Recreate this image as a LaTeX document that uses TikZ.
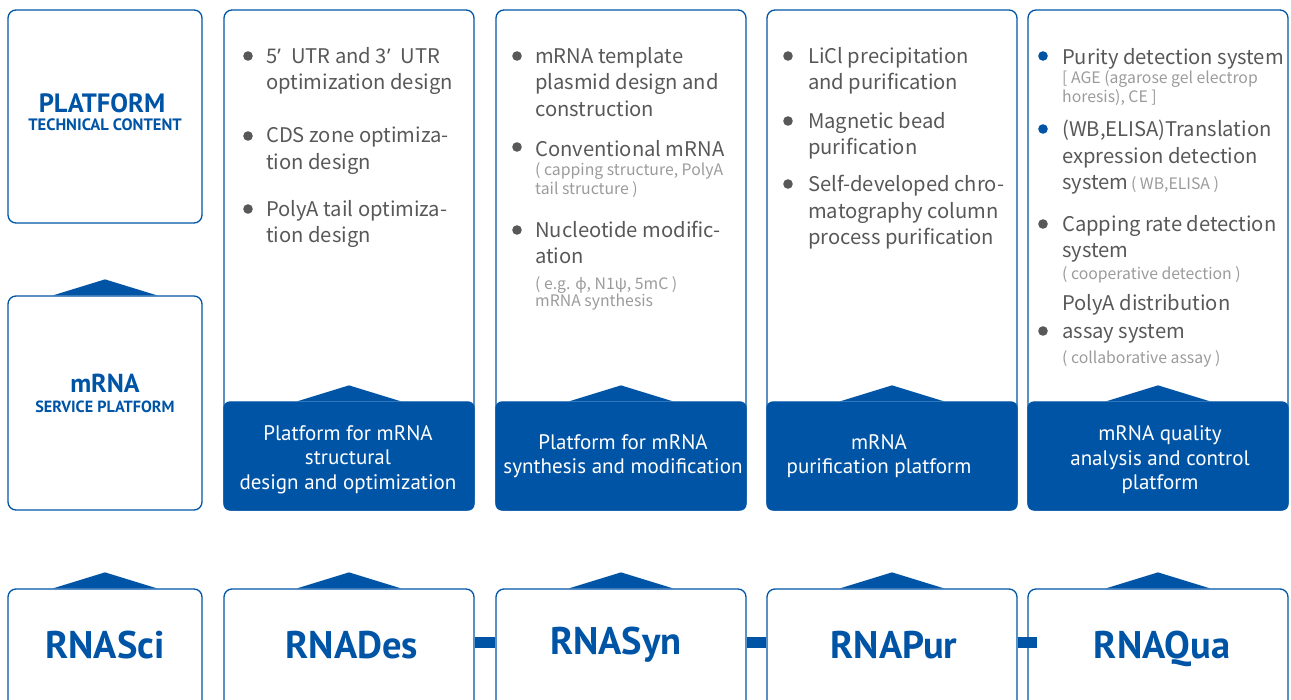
\documentclass[tikz,border=0pt]{standalone}
\usepackage{fontspec}
\setmainfont{PT Sans}
\newfontfamily\bodyfont{Noto Sans CJK SC}
\newfontfamily\symfont{Noto Sans}
\definecolor{mblue}{RGB}{0,84,166}
\definecolor{txtgray}{RGB}{88,88,88}
\definecolor{notegray}{RGB}{155,155,155}
% small roof on top of a box
\newcommand{\roof}[1]{\fill[mblue] ([xshift=-52pt]#1.north) -- ([yshift=16pt]#1.north) -- ([xshift=52pt]#1.north) -- cycle;}
\newcommand{\primemark}{{\symfont’}\hspace{0.5em}}

\begin{document}
\begin{tikzpicture}[x=1pt, y=-1pt,
  panel/.style={draw=mblue, line width=1.3pt, rounded corners=8pt, inner sep=0pt},
  plat/.style={fill=mblue, draw=mblue, line width=1.3pt, rounded corners=6pt, inner sep=0pt},
  item/.style={anchor=north west, inner sep=0pt, align=left, text=txtgray,
    font=\bodyfont\fontsize{20.2}{26.5}\selectfont, execute at begin node=\strut},
  note/.style={item, text=notegray, font=\bodyfont\fontsize{15.8}{18.5}\selectfont},
  platlabel/.style={text=white, align=center, inner sep=0pt, font=\fontsize{21}{24.5}\selectfont},
  head/.style={anchor=base, text=mblue, inner sep=0pt, font=\bfseries\fontsize{38.5}{40}\selectfont},
  bar/.style={draw=mblue, line width=11pt}]
 \useasboundingbox (0,0) rectangle (1291,700);
 \clip (0,0) rectangle (1291,700);

 % left column
 \node[panel, minimum width=194pt, minimum height=213pt] (pTech) at (105,116.5) {};
 \node[panel, minimum width=194pt, minimum height=214pt] (pServ) at (105,403) {};
 \node[head, font=\bfseries\fontsize{26.5}{28}\selectfont] (tTech) at (102,113) {PLATFORM};
 \node[head, font=\bfseries\fontsize{16.5}{18}\selectfont] (sTech) at (105,131) {TECHNICAL CONTENT};
 \node[head, font=\bfseries\fontsize{26}{28}\selectfont] (tServ) at (105,393) {mRNA};
 \node[head, font=\bfseries\fontsize{16.2}{18}\selectfont] (sServ) at (105,413) {SERVICE PLATFORM};

 % platform columns
 \node[panel, minimum width=250pt, minimum height=500pt] (pDes) at (349,260) {};
 \node[panel, minimum width=250pt, minimum height=500pt] (pSyn) at (621,260) {};
 \node[panel, minimum width=250pt, minimum height=500pt] (pPur) at (892,260) {};
 \node[panel, minimum width=260pt, minimum height=500pt] (pQua) at (1158,260) {};
 \node[plat, minimum width=250pt, minimum height=108pt] (bDes) at (349,456) {};
 \node[plat, minimum width=250pt, minimum height=108pt] (bSyn) at (621,456) {};
 \node[plat, minimum width=250pt, minimum height=108pt] (bPur) at (892,456) {};
 \node[plat, minimum width=260pt, minimum height=108pt] (bQua) at (1158,456) {};
 \node[platlabel] (lDes) at (348,459.5) {Platform for mRNA\\structural\\design and optimization};
 \node[platlabel] (lSyn) at (623,456) {Platform for mRNA\\synthesis and modification};
 \node[platlabel] (lPur) at (879,456) {mRNA\\purification platform};
 \node[platlabel] (lQua) at (1160,460) {mRNA quality\\analysis and control\\platform};

 % design
 \node[item] (d1) at (266,47) {5\primemark UTR and 3\primemark UTR\\optimization design};
 \node[item] (d2) at (266,127) {CDS zone optimiza-\\tion design};
 \node[item] (d3) at (266,200) {PolyA tail optimiza-\\tion design};
 % synthesis
 \node[item] (s1) at (535,47) {mRNA template\\plasmid design and\\construction};
 \node[item] (s2) at (535,137.5) {Conventional mRNA};
 \node[note] (s2n) at (535,162.5) {( capping structure, PolyA\\tail structure )};
 \node[item] (s3) at (535,220.5) {Nucleotide modific-\\ation};
 \node[note, font=\bodyfont\fontsize{15.8}{16.5}\selectfont] (s3n) at (535,276) {( e.g. {\symfont ϕ}, N1ψ, 5mC )\\mRNA synthesis};
 % purification
 \node[item] (u1) at (808,47) {LiCl precipitation\\and purification};
 \node[item] (u2) at (808,112) {Magnetic bead\\purification};
 \node[item] (u3) at (808,175) {Self-developed chro-\\matography column\\process purification};
 % quality
 \node[item] (q1) at (1062,45.5) {Purity detection system};
 \node[note] (q1n) at (1062,70.5) {[ AGE (agarose gel electrop\\horesis), CE ]};
 \node[item] (q2) at (1062,120) {(WB,ELISA)Translation\\expression detection\\system{\color{notegray}\fontsize{15.8}{26.5}\selectfont\,( WB,ELISA )}};
 \node[item] (q3) at (1062,215) {Capping rate detection\\system};
 \node[note] (q3n) at (1062,266.5) {( cooperative detection )};
 \node[item, font=\bodyfont\fontsize{20.2}{28}\selectfont] (q4) at (1062,294) {PolyA distribution\\assay system};
 \node[note] (q4n) at (1062,350.5) {( collaborative assay )};

 \foreach \x/\y in {248/56,248/136,248/209,517/56,517/147,517/230,788/56,788/121,788/184,1043/224,1043/331}
   \fill[txtgray] (\x,\y) circle (4.8pt);
 \foreach \y in {56,129}
   \fill[mblue] (1043,\y) circle (4.8pt);

 % bottom row
 \node[panel, minimum width=194pt, minimum height=131pt] (rSci) at (105,654.5) {};
 \node[panel, minimum width=250pt, minimum height=131pt] (rDes) at (349,654.5) {};
 \node[panel, minimum width=250pt, minimum height=131pt] (rSyn) at (621,654.5) {};
 \node[panel, minimum width=250pt, minimum height=131pt] (rPur) at (892,654.5) {};
 \node[panel, minimum width=260pt, minimum height=131pt] (rQua) at (1158,654.5) {};
 \node[head] (tSci) at (105,658) {RNASci};
 \node[head] (tDes) at (352,658) {RNADes};
 \node[head] (tSyn) at (616,654) {RNASyn};
 \node[head] (tPur) at (894,658) {RNAPur};
 \node[head] (tQua) at (1162,658) {RNAQua};

 \foreach \a/\b in {rDes/rSyn,rSyn/rPur}
   \draw[bar] ([yshift=12.5pt]\a.east) -- ([yshift=12.5pt]\b.west);
 \draw[bar] ([yshift=12.5pt]rPur.east) -- ([xshift=10pt,yshift=12.5pt]rQua.west);

 \foreach \n in {pServ,bDes,bSyn,bPur,bQua,rSci,rDes,rSyn,rPur,rQua}
   {\roof{\n}}
\end{tikzpicture}
\end{document}
